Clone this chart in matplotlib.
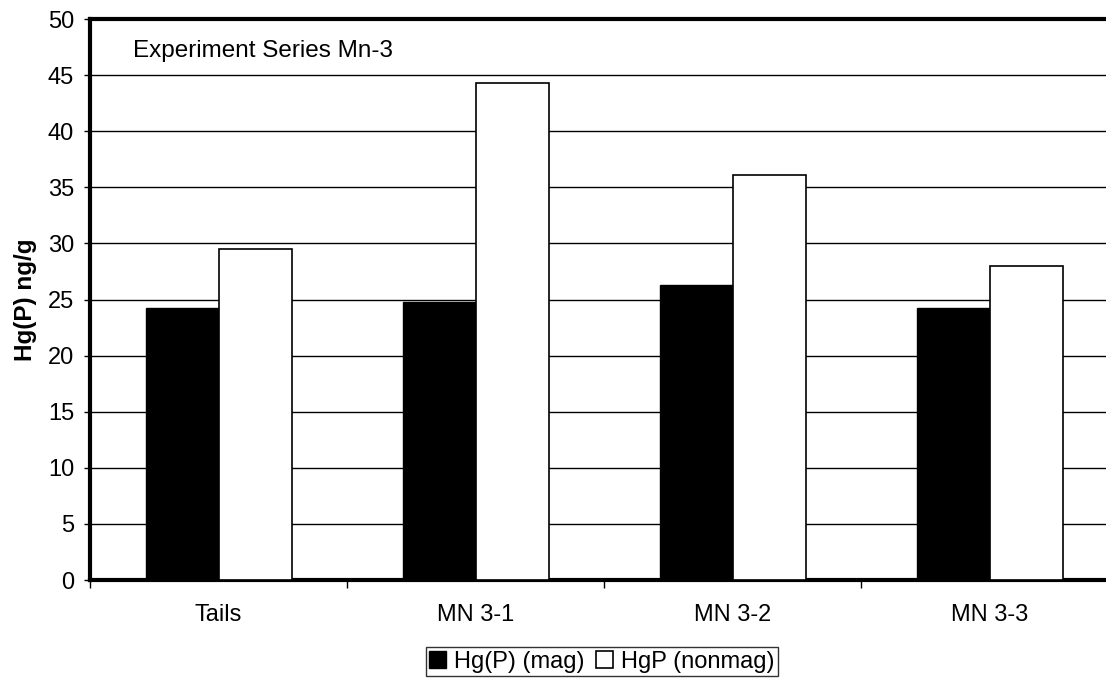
import matplotlib
matplotlib.use('Agg')
import matplotlib.pyplot as plt
import numpy as np

plt.rcParams['font.family'] = ['Liberation Sans', 'DejaVu Sans']

categories = ['Tails', 'MN 3-1', 'MN 3-2', 'MN 3-3']
hg_mag = [24.2, 24.8, 26.3, 24.2]
hg_nonmag = [29.5, 44.3, 36.1, 28.0]

fig = plt.figure(figsize=(11.06, 6.79), dpi=100)
ax = fig.add_axes([0.0814, 0.1458, 0.93, 0.8262])

pos = np.arange(len(categories))
width = 0.284
ax.bar(pos - width / 2, hg_mag, width, color='black', edgecolor='black',
       linewidth=1, label='Hg(P) (mag)', zorder=3)
ax.bar(pos + width / 2, hg_nonmag, width, color='white', edgecolor='black',
       linewidth=1.2, label='HgP (nonmag)', zorder=3)

ax.set_xlim(-0.5, 3.5)
ax.set_ylim(0, 50)
ax.set_yticks(np.arange(0, 51, 5))
ax.yaxis.grid(True, color='black', linewidth=1, zorder=0)
ax.set_axisbelow(True)

ax.set_xticks(pos)
ax.set_xticklabels(categories, fontsize=17)
ax.set_xticks(np.arange(-0.5, 3.6, 1), minor=True)
ax.tick_params(axis='x', which='major', length=0, pad=17)
ax.tick_params(axis='x', which='minor', length=6, width=1, direction='out')
ax.tick_params(axis='y', labelsize=17, length=4.5, width=1, direction='out',
               pad=7)

for s in ax.spines.values():
    s.set_linewidth(3)

ax.set_ylabel('Hg(P) ng/g', fontsize=17.5, fontweight='bold', labelpad=8)
ax.text(0.0418, 0.932, 'Experiment Series Mn-3', transform=ax.transAxes,
        fontsize=17.5, va='baseline', ha='left')

leg = fig.legend(loc='upper center', bbox_to_anchor=(602 / 1106, 1 - 647 / 679),
                 ncol=2, fontsize=17, frameon=True, fancybox=False,
                 handlelength=0.7, handleheight=0.7, handletextpad=0.35,
                 columnspacing=0.5, borderpad=0.15, borderaxespad=0)
leg.get_frame().set_edgecolor('black')
leg.get_frame().set_linewidth(1)

fig.savefig('out.png', dpi=100)
